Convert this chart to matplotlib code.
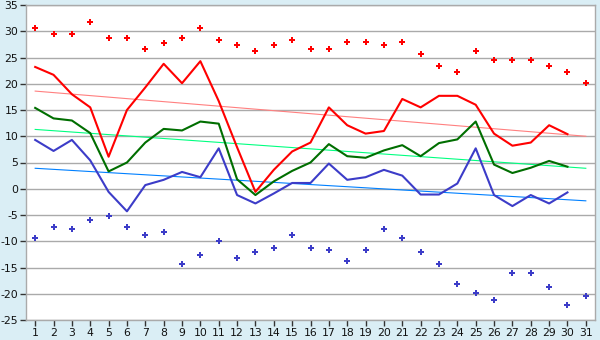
import matplotlib
matplotlib.use("Agg")
import matplotlib.pyplot as plt

plt.rcParams['axes.unicode_minus'] = False

days = list(range(1, 32))
abs_max = [30.6, 29.4, 29.4, 31.7, 28.8, 28.8, 26.7, 27.8, 28.8, 30.6,
           28.3, 27.3, 26.2, 27.3, 28.3, 26.7, 26.7, 27.9, 27.9, 27.3,
           27.9, 25.7, 23.3, 22.2, 26.2, 24.5, 24.5, 24.5, 23.3, 22.2, 20.1]
abs_min = [-9.4, -7.2, -7.7, -6.0, -5.1, -7.2, -8.9, -8.3, -14.4, -12.7,
           -10.0, -13.2, -12.1, -11.2, -8.9, -11.2, -11.7, -13.8, -11.7, -7.7,
           -9.4, -12.1, -14.4, -18.2, -19.9, -21.1, -16.1, -16.1, -18.8, -22.2, -20.5]
days30 = list(range(1, 31))
mean_max = [23.2, 21.7, 18.0, 15.5, 6.1, 15.0, 19.3, 23.8, 20.1, 24.3,
            16.7, 7.9, -0.6, 3.6, 7.1, 8.8, 15.5, 12.1, 10.5, 11.0,
            17.1, 15.5, 17.7, 17.7, 16.0, 10.5, 8.2, 8.8, 12.1, 10.4]
mean_avg = [15.4, 13.4, 13.0, 10.6, 3.3, 5.0, 8.8, 11.4, 11.1, 12.8,
            12.4, 1.8, -1.2, 1.4, 3.4, 5.0, 8.5, 6.2, 5.9, 7.3,
            8.3, 6.2, 8.7, 9.4, 12.8, 4.6, 3.0, 4.0, 5.3, 4.2]
mean_min = [9.3, 7.2, 9.3, 5.4, -0.6, -4.3, 0.7, 1.7, 3.2, 2.2,
            7.7, -1.2, -2.8, -0.9, 1.1, 1.1, 4.8, 1.7, 2.2, 3.6,
            2.5, -1.1, -1.1, 1.0, 7.7, -1.2, -3.3, -1.2, -2.8, -0.7]
trend_days = [1, 31]
trend_max = [18.6, 10.0]
trend_avg = [11.3, 3.9]
trend_min = [3.9, -2.3]

bg = '#daeef5'
fig = plt.figure(figsize=(6, 3.4), dpi=100, facecolor=bg)
ax = fig.add_axes([26/600, 1-320/340, (595-26)/600, (320-5)/340])
ax.set_facecolor('white')

ax.set_xlim(0.5, 31.5)
ax.set_ylim(-25, 35)
ax.set_yticks(range(-25, 36, 5))
ax.set_xticks(days)
ax.yaxis.grid(True, color='#aaaaaa', linewidth=1.0)
ax.set_axisbelow(True)
for s in ax.spines.values():
    s.set_color('#aaaaaa')
    s.set_linewidth(1.0)
ax.tick_params(axis='both', labelsize=7.8, length=4, width=1, color='#333333',
               labelcolor='#111111', pad=1.5)

ax.plot(trend_days, trend_max, color='#ff8080', lw=0.8)
ax.plot(trend_days, trend_avg, color='#00ff80', lw=0.8)
ax.plot(trend_days, trend_min, color='#0080ff', lw=0.8)

ax.plot(days30, mean_max, color='#ff0000', lw=1.5)
ax.plot(days30, mean_avg, color='#006e00', lw=1.5)
ax.plot(days30, mean_min, color='#3c3cc8', lw=1.5)

ax.plot(days, abs_max, linestyle='none', marker='P', markersize=5,
        color='#ff0000', markeredgewidth=0)
ax.plot(days, abs_min, linestyle='none', marker='P', markersize=5,
        color='#3c3cc8', markeredgewidth=0)

fig.savefig('out.png', dpi=100, facecolor=bg)
